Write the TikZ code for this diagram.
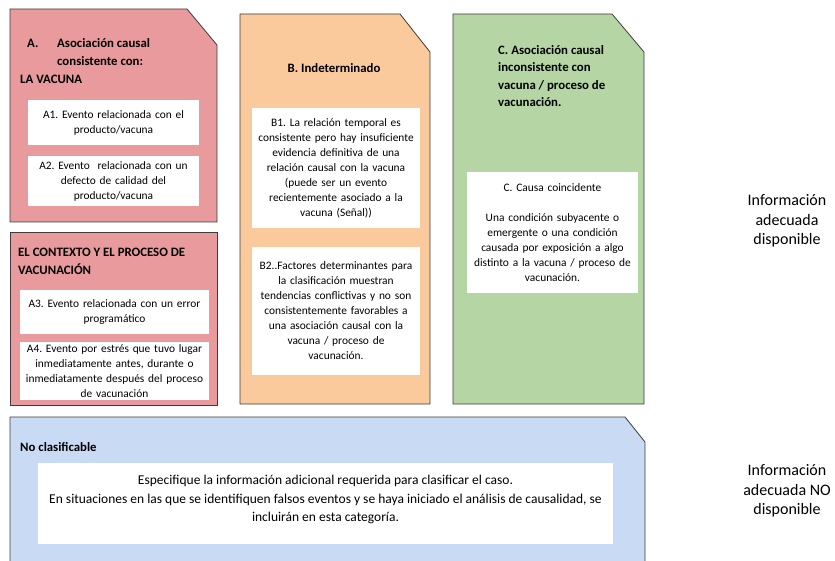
\documentclass[tikz,border=0pt]{standalone}
\usepackage{fontspec}
\setmainfont{Carlito}
\usetikzlibrary{positioning}
\frenchspacing

\definecolor{panelA}{RGB}{233,154,156}
\definecolor{panelB}{RGB}{250,201,156}
\definecolor{panelC}{RGB}{181,214,164}
\definecolor{panelD}{RGB}{201,218,244}
\definecolor{edgegrey}{RGB}{60,60,60}

\tikzset{
  panel/.style={draw=edgegrey, line width=0.8pt},
  card/.style={fill=white, inner sep=2pt, align=center, font=\fontsize{11.4}{15}\selectfont},
  heading/.style={font=\bfseries\fontsize{12.8}{17.5}\selectfont, align=left, inner sep=0pt},
  sidenote/.style={font=\fontsize{16}{19.5}\selectfont, align=center}
}

\begin{document}
\begin{tikzpicture}[x=1pt, y=-1pt]
  \clip (0,0) rectangle (835,561);

  % Panels
  \draw[panel, fill=panelA] (10,9) -- (187,9) -- (217,45) -- (217,222) -- (10,222) -- cycle;
  \draw[panel, fill=panelA] (10,232) rectangle (217,405);
  \draw[panel, fill=panelB] (240,14) -- (400,14) -- (430,52) -- (430,404) -- (240,404) -- cycle;
  \draw[panel, fill=panelC] (453,14) -- (612,14) -- (644,52) -- (644,404) -- (453,404) -- cycle;
  \draw[panel, fill=panelD] (10,417) -- (625,417) -- (645,442) -- (645,580) -- (10,580) -- cycle;

  % Headings
  \node[heading, anchor=north west, font=\bfseries\fontsize{12.8}{18}\selectfont] (headA) at (20,38)
    {\hspace*{7pt}\makebox[30pt][l]{A.}Asociación causal\\
     \hspace*{37pt}consistente con:\\
     LA VACUNA};
  \node[heading, anchor=north west] (headCtx) at (18,248)
    {EL CONTEXTO Y EL PROCESO DE\\VACUNACIÓN};
  \node[heading] (headB) at (334,68) {B. Indeterminado};
  \node[heading, anchor=north west] (headC) at (498,45)
    {C. Asociación causal\\inconsistente con\\vacuna / proceso de\\vacunación.};
  \node[heading, anchor=west] (headD) at (20,447) {No clasificable};

  % Cards
  \node[card, text width=167pt, minimum height=45pt] (a1) at (113.5,122.5)
    {A1. Evento relacionada con el\\producto/vacuna};
  \node[card, text width=167pt, minimum height=50pt] (a2) at (113.5,181)
    {A2. Evento\ \ relacionada con un\\defecto de calidad del\\producto/vacuna};
  \node[card, text width=185pt, minimum height=44pt] (a3) at (114.5,312)
    {A3. Evento relacionada con un error\\programático};
  \node[card, text width=185pt, minimum height=58pt] (a4) at (114.5,371)
    {A4. Evento por estrés que tuvo lugar\\inmediatamente antes, durante o\\inmediatamente después del proceso\\de vacunación};
  \node[card, text width=164pt, minimum height=120pt] (b1) at (336,168)
    {B1. La relación temporal es\\consistente pero hay insuficiente\\evidencia definitiva de una\\relación causal con la vacuna\\(puede ser un evento\\recientemente asociado a la\\vacuna (Señal))};
  \node[card, text width=164pt, minimum height=128pt] (b2) at (336,311)
    {B2..Factores determinantes para\\la clasificación muestran\\tendencias conflictivas y no son\\consistentemente favorables a\\una asociación causal con la\\vacuna / proceso de\\vacunación.};
  \node[card, text width=167pt, minimum height=121pt] (c1) at (552.5,232.5)
    {C. Causa coincidente\\[15pt]
     Una condición subyacente o\\emergente o una condición\\causada por exposición a algo\\distinto a la vacuna / proceso de\\vacunación.};
  \node[fill=white, minimum width=575pt, minimum height=81pt] (d1) at (325.5,503.5) {};
  \node[align=center, font=\fontsize{13.5}{18.8}\selectfont] (d1text) at (325.5,499.5)
    {Especifique la información adicional requerida para clasificar el caso.\\
     En situaciones en las que se identifiquen falsos eventos y se haya iniciado el análisis de causalidad, se\\
     incluirán en esta categoría.};

  % Side notes
  \node[sidenote] (infoyes) at (787,221) {Información\\adecuada\\disponible};
  \node[sidenote] (infono) at (787,491) {Información\\adecuada NO\\disponible};
\end{tikzpicture}
\end{document}
